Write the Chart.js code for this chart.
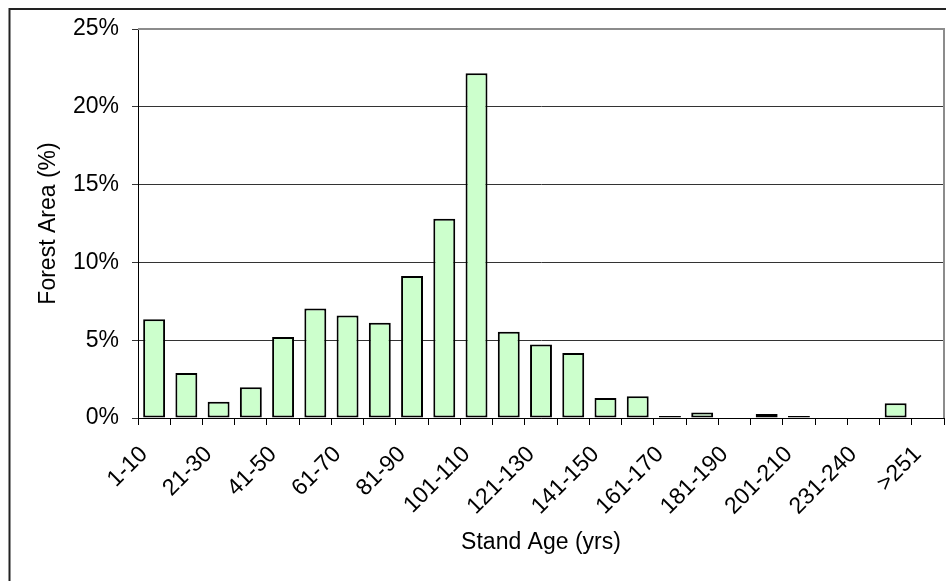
<!DOCTYPE html>
<html>
<head>
<meta charset="utf-8">
<script src="https://cdn.jsdelivr.net/npm/chart.js@4"></script>
<style>
html,body{margin:0;padding:0;background:#fff;}
#wrap{width:946px;height:581px;}
</style>
</head>
<body>
<div id="wrap"><canvas id="c" width="946" height="581"></canvas></div>
<script>
const categories = ["1-10","11-20","21-30","31-40","41-50","51-60","61-70","71-80","81-90","91-100",
  "101-110","111-120","121-130","131-140","141-150","151-160","161-170","171-180","181-190","191-200",
  "201-210","211-220","231-240","241-250",">251"];
const forestArea = [6.35,2.9,1.05,1.97,5.2,7.04,6.59,6.12,9.12,12.8,
  22.16,5.54,4.73,4.17,1.28,1.39,0.13,0.36,0,0.26,
  0.13,0,0,0.94,0];
const yTicks = [0,5,10,15,20,25];

const FONT = "'Liberation Sans', Arial, sans-serif";

const framePlugin = {
  id: 'frame',
  beforeDraw(chart) {
    const c = chart.ctx;
    c.save(); c.fillStyle = '#fff'; c.fillRect(0, 0, chart.width, chart.height); c.restore();
  },
  afterDraw(chart) {
    const ctx = chart.ctx, a = chart.chartArea;
    ctx.save();
    ctx.strokeStyle = '#8c8c8c'; ctx.lineWidth = 2;
    ctx.beginPath();
    ctx.moveTo(a.left, a.top); ctx.lineTo(a.right, a.top); ctx.lineTo(a.right, a.bottom);
    ctx.stroke();
    ctx.strokeStyle = '#222'; ctx.lineWidth = 2;
    ctx.beginPath();
    ctx.moveTo(9.5, chart.height + 5); ctx.lineTo(9.5, 9); ctx.lineTo(chart.width + 5, 9);
    ctx.stroke();
    ctx.restore();
  }
};

new Chart(document.getElementById('c'), {
  type: 'bar',
  data: {
    labels: categories,
    datasets: [{
      data: forestArea,
      backgroundColor: '#ccffcc',
      borderColor: '#000',
      borderWidth: 2,
      borderSkipped: false,
      barPercentage: 0.68,
      categoryPercentage: 1.0
    }]
  },
  options: {
    responsive: false,
    animation: false,
    devicePixelRatio: 1,
    layout: { padding: { left: 35, top: 29, right: 2, bottom: 25 } },
    plugins: { legend: { display: false }, tooltip: { enabled: false } },
    scales: {
      x: {
        offset: true,
        grid: { display: true, offset: true, drawOnChartArea: false, drawTicks: true, tickLength: 7, color: '#000', lineWidth: 1 },
        border: { display: true, color: '#000', width: 1 },
        ticks: {
          autoSkip: false, minRotation: 45, maxRotation: 45, padding: 16, labelOffset: -10,
          color: '#000', font: { family: FONT, size: 23 },
          callback: function(v, i) { return i % 2 === 0 ? categories[i] : ''; }
        },
        title: { display: true, text: 'Stand Age (yrs)', color: '#000', font: { family: FONT, size: 23 }, padding: 0 },
        afterFit: function(s) { s.height = 138; s.paddingLeft = 0; s.paddingRight = 0; }
      },
      y: {
        min: 0, max: 25,
        afterBuildTicks: function(s) { s.ticks = yTicks.map(v => ({ value: v })); },
        grid: { color: '#333', lineWidth: 1, tickLength: 6, drawTicks: true },
        border: { display: true, color: '#000', width: 1 },
        ticks: {
          padding: 13, color: '#000', font: { family: FONT, size: 23 },
          callback: function(v) { return v + '%'; }
        },
        title: { display: true, text: 'Forest Area (%)', color: '#000', font: { family: FONT, size: 23 }, padding: 0 },
        afterFit: function(s) { s.width = 103; }
      }
    }
  },
  plugins: [framePlugin]
});
</script>
</body>
</html>
